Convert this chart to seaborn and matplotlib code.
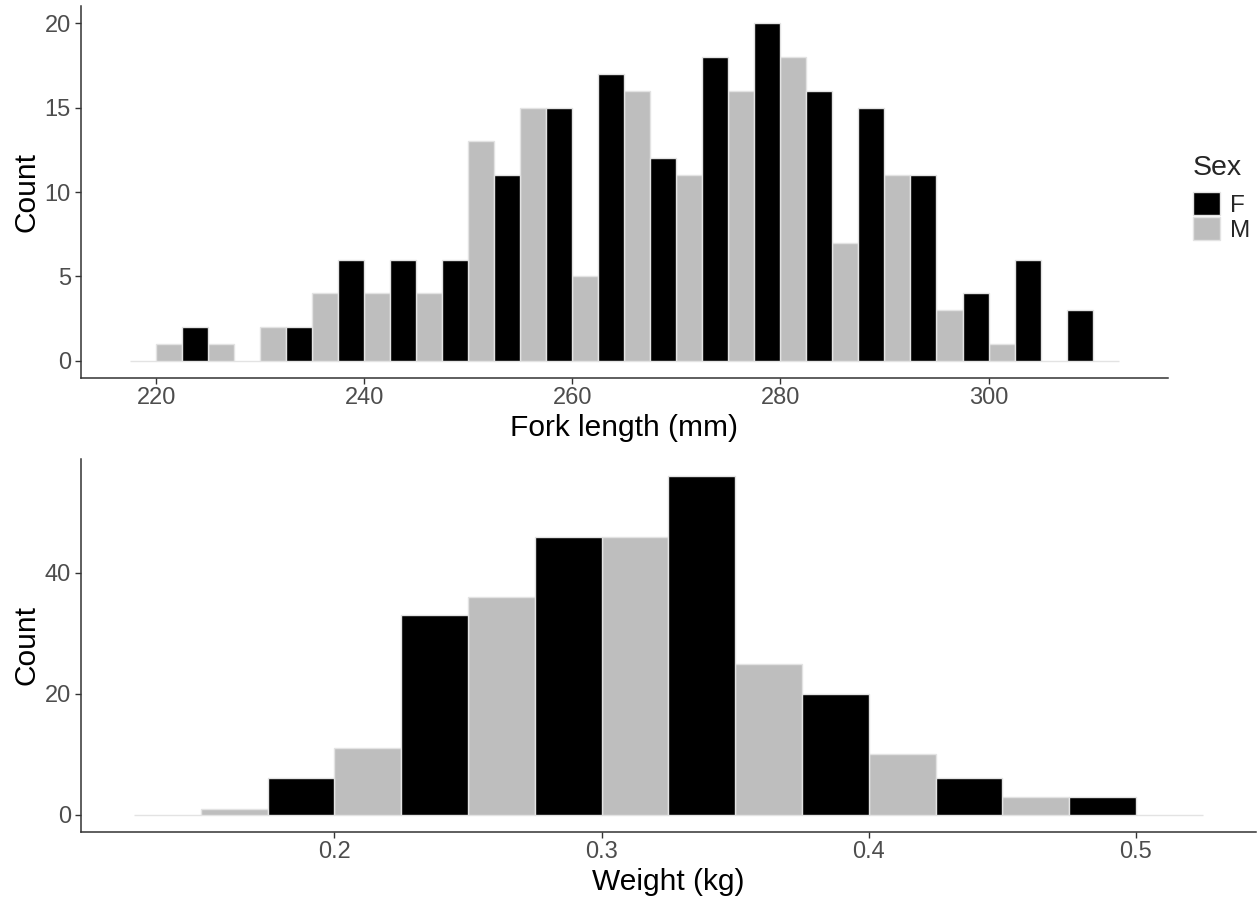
import numpy as np
import pandas as pd
import seaborn as sns
import matplotlib
matplotlib.use("Agg")
import matplotlib.pyplot as plt

# ---------------- data ----------------
sexes = ["F", "M"]
sex_colors = ["#000000", "#BEBEBE"]

fl_centers = [220, 225, 230, 235, 240, 245, 250, 255, 260, 265,
              270, 275, 280, 285, 290, 295, 300, 305, 310]
fl_F = [0, 2, 0, 2, 6, 6, 6, 11, 15, 17, 12, 18, 20, 16, 15, 11, 4, 6, 3]
fl_M = [1, 1, 2, 4, 4, 4, 13, 15, 5, 16, 11, 16, 18, 7, 11, 3, 1, 0, 0]
fl_binwidth = 5

wt_centers = [0.15, 0.20, 0.25, 0.30, 0.35, 0.40, 0.45, 0.50]
wt_F = [0, 6, 33, 46, 56, 20, 6, 3]
wt_M = [1, 11, 36, 46, 25, 10, 3, 0]
wt_binwidth = 0.05

fl_xticks = [220, 240, 260, 280, 300]
fl_yticks = [0, 5, 10, 15, 20]
wt_xticks = [0.2, 0.3, 0.4, 0.5]
wt_yticks = [0, 20, 40]


def make_df(centers, f_counts, m_counts):
    rows = []
    for c, f, m in zip(centers, f_counts, m_counts):
        rows.append({"value": c, "count": f, "Sex": "F"})
        rows.append({"value": c, "count": m, "Sex": "M"})
    return pd.DataFrame(rows)


def edges_from(centers, bw):
    c = np.asarray(centers, dtype=float)
    return [float(v) for v in np.append(c - bw / 2, c[-1] + bw / 2)]


# ---------------- style ----------------
sns.set_theme(style="white")
plt.rcParams["font.family"] = ["Liberation Sans", "DejaVu Sans"]

TICK_COLOR = "#4D4D4D"
AXIS_COLOR = "#333333"
EDGE = "#E3E3E3"

fig = plt.figure(figsize=(12.57, 9.0), dpi=100)
ax1 = fig.add_axes([0.0642, 0.5804, 0.865, 0.4124])
ax2 = fig.add_axes([0.0642, 0.0759, 0.9351, 0.4138])

palette = dict(zip(sexes, sex_colors))

df1 = make_df(fl_centers, fl_F, fl_M)
df2 = make_df(wt_centers, wt_F, wt_M)

sns.histplot(data=df1, x="value", weights="count", hue="Sex", hue_order=sexes,
             bins=edges_from(fl_centers, fl_binwidth), multiple="dodge", shrink=1,
             palette=palette, alpha=1, edgecolor=EDGE, linewidth=1.0, ax=ax1,
             legend=True)
sns.histplot(data=df2, x="value", weights="count", hue="Sex", hue_order=sexes,
             bins=edges_from(wt_centers, wt_binwidth), multiple="dodge", shrink=1,
             palette=palette, alpha=1, edgecolor=EDGE, linewidth=1.0, ax=ax2,
             legend=False)


def style_axis(ax, xlim, ylim, xticks, yticks, xlabel):
    ax.set_xlim(*xlim)
    ax.set_ylim(*ylim)
    ax.set_xticks(xticks)
    ax.set_yticks(yticks)
    ax.set_xlabel(xlabel, fontsize=21.5, color="black", labelpad=3)
    ax.set_ylabel("Count", fontsize=21.5, color="black", labelpad=3)
    for s in ["top", "right"]:
        ax.spines[s].set_visible(False)
    for s in ["left", "bottom"]:
        ax.spines[s].set_color(AXIS_COLOR)
        ax.spines[s].set_linewidth(1.1)
    ax.tick_params(axis="both", which="major", length=4, width=1.0,
                   color=AXIS_COLOR, labelcolor=TICK_COLOR, labelsize=17,
                   pad=3, bottom=True, left=True)
    ax.grid(False)


fl_lo = fl_centers[0] - fl_binwidth / 2
fl_hi = fl_centers[-1] + fl_binwidth / 2
fl_pad = 0.05 * (fl_hi - fl_lo)
wt_lo = wt_centers[0] - wt_binwidth / 2
wt_hi = wt_centers[-1] + wt_binwidth / 2
wt_pad = 0.05 * (wt_hi - wt_lo)

style_axis(ax1, (fl_lo - fl_pad, fl_hi + fl_pad), (-1, 21),
           fl_xticks, fl_yticks, "Fork length (mm)")
style_axis(ax2, (wt_lo - wt_pad, wt_hi + wt_pad), (-2.8, 58.8),
           wt_xticks, wt_yticks, "Weight (kg)")

leg_kw = dict(loc="upper left", bbox_to_anchor=(1193 / 1257, 1 - 155 / 900),
              bbox_transform=fig.transFigure, frameon=False, title="Sex",
              fontsize=17.5, title_fontsize=20.5, handlelength=1.12,
              handleheight=1.1, labelspacing=0.0, handletextpad=0.4,
              borderpad=0.0, borderaxespad=0.0, alignment="left")
sns.move_legend(ax1, **leg_kw)
leg = ax1.get_legend()
leg._legend_box.sep = 8

fig.savefig("out.png", dpi=100)
